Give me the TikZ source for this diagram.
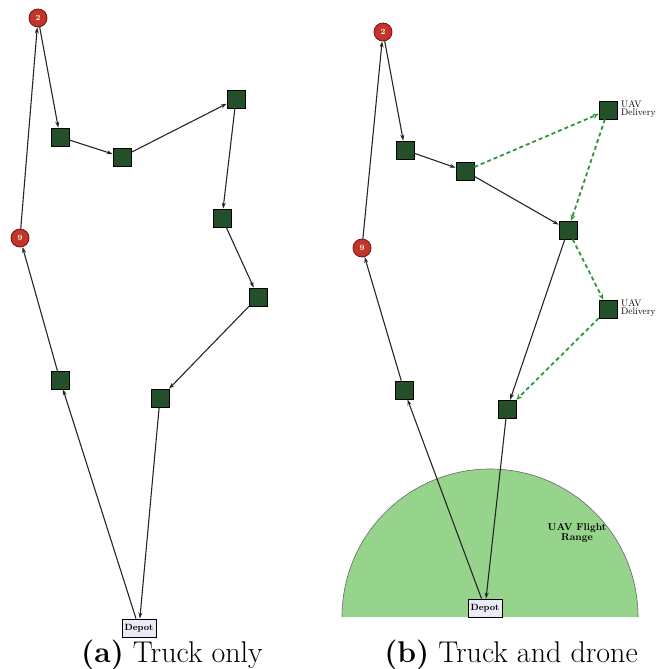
\documentclass[tikz,border=0pt]{standalone}
\usetikzlibrary{arrows.meta}
\definecolor{sqgreen}{RGB}{34,80,40}
\definecolor{custred}{RGB}{196,52,40}
\definecolor{custedge}{RGB}{110,20,15}
\definecolor{rangegreen}{RGB}{150,212,140}
\definecolor{dronegreen}{RGB}{50,150,55}
\definecolor{depotfill}{RGB}{236,234,246}
\begin{document}
\begin{tikzpicture}[x=1pt,y=-1pt,
  sq/.style={draw=black, fill=sqgreen, minimum size=18pt, inner sep=0pt, line width=0.6pt,
             font=\fontsize{6}{7}\selectfont, text=black!75},
  cust/.style={circle, draw=custedge, fill=custred, minimum size=18pt, inner sep=0pt, line width=0.8pt,
             font=\fontsize{8}{9}\selectfont\bfseries, text=white},
  depot/.style={draw=black, fill=depotfill, minimum width=34pt, minimum height=18pt, inner sep=1pt,
             line width=0.8pt, font=\fontsize{9}{10}\selectfont\bfseries},
  route/.style={-{Stealth[length=6pt,width=4pt]}, line width=1.1pt, draw=black!85},
  drone/.style={-{Stealth[length=6pt,width=5pt]}, line width=1.8pt, draw=dronegreen,
             dash pattern=on 4pt off 3pt},
  uavlbl/.style={anchor=west, align=left, inner sep=0pt, font=\fontsize{9.5}{8.5}\selectfont},
  captxt/.style={anchor=base, inner sep=0pt, font=\fontsize{30}{33}\selectfont}]
\useasboundingbox (0,0) rectangle (665,669);
% ---------- (a) truck only ----------
\node[cust] (a2) at (38,18) {2};
\node[cust] (a9) at (20,238) {9};
\node[sq] (a8) at (60,137) {8};
\node[sq] (a4) at (122,157) {4};
\node[sq] (a7) at (236,99) {7};
\node[sq] (a6) at (222,218) {6};
\node[sq] (a1) at (258,297) {1};
\node[sq] (a3) at (160,398) {3};
\node[sq] (a5) at (60,380) {5};
\node[depot] (ad) at (139,628) {Depot};
\draw[route] (ad) -- (a5);
\draw[route] (a5) -- (a9);
\draw[route] (a9) -- (a2);
\draw[route] (a2) -- (a8);
\draw[route] (a8) -- (a4);
\draw[route] (a4) -- (a7);
\draw[route] (a7) -- (a6);
\draw[route] (a6) -- (a1);
\draw[route] (a1) -- (a3);
\draw[route] (a3) -- (ad);
\node[captxt] (capa) at (172,662) {\textbf{(a)} Truck only};
% ---------- (b) truck and drone ----------
\fill[rangegreen] (342,617) arc[start angle=180, end angle=0, radius=148pt] -- cycle;
\draw[black!60, line width=0.6pt] (342,617) arc[start angle=180, end angle=0, radius=148pt];
\node[align=center, inner sep=0pt, font=\fontsize{10}{10}\selectfont\bfseries] (rng) at (577,533) {UAV Flight\\Range};
\node[cust] (b2) at (383,32) {2};
\node[cust] (b9) at (362,248) {9};
\node[sq] (b8) at (405,150) {8};
\node[sq] (b4) at (465,171) {4};
\node[sq] (b7) at (608,110) {7};
\node[sq] (b6) at (568,230) {6};
\node[sq] (b1) at (608,309) {1};
\node[sq] (b3) at (507,409) {3};
\node[sq] (b5) at (404,390) {5};
\node[depot] (bd) at (485,608) {Depot};
\node[uavlbl] (u7) at (621,109) {UAV\\Delivery};
\node[uavlbl] (u1) at (621,308) {UAV\\Delivery};
\draw[route] (bd) -- (b5);
\draw[route] (b5) -- (b9);
\draw[route] (b9) -- (b2);
\draw[route] (b2) -- (b8);
\draw[route] (b8) -- (b4);
\draw[route] (b4) -- (b6);
\draw[route] (b6) -- (b3);
\draw[route] (b3) -- (bd);
\draw[drone] (b4) -- (b7);
\draw[drone] (b7) -- (b6);
\draw[drone] (b6) -- (b1);
\draw[drone] (b1) -- (b3);
\node[captxt] (capb) at (511,662) {\textbf{(b)} Truck and drone};
\end{tikzpicture}
\end{document}
